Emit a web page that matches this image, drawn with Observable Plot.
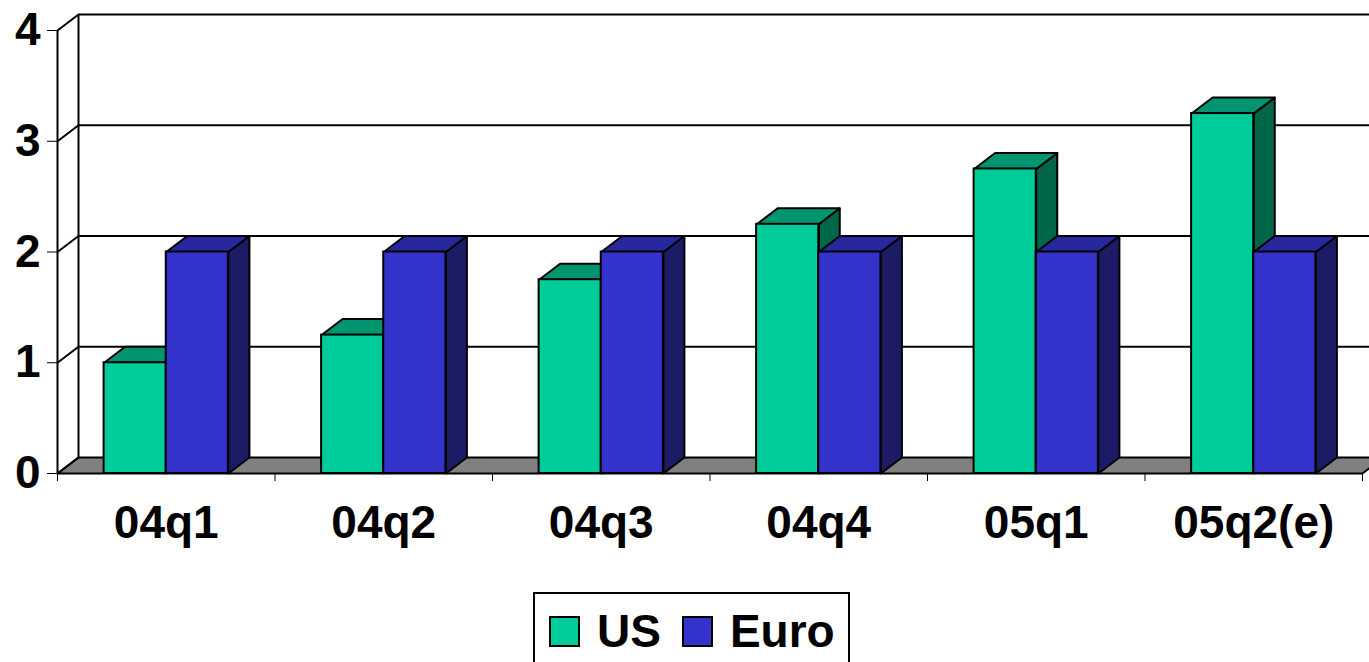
<!DOCTYPE html>
<html>
<head>
<meta charset="utf-8">
<script src="https://cdn.jsdelivr.net/npm/d3@7"></script>
<script src="https://cdn.jsdelivr.net/npm/@observablehq/plot@0.6"></script>
<style>
  html, body { margin: 0; padding: 0; background: #fff; overflow: hidden; }
  body { font-family: "Liberation Sans", Arial, sans-serif; }
  #chart svg { display: block; }
  #chart svg text { font-family: "Liberation Sans", Arial, sans-serif; font-size: 46px; font-weight: bold; }
  #legend {
    margin: 12px 0 0 533px; width: 317px; height: 90px; box-sizing: border-box;
    border: 2px solid #000; display: flex; align-items: flex-start; padding: 14px 0 0 14px;
    font-size: 46px; font-weight: bold; line-height: 1;
  }
  #legend .item { display: flex; align-items: center; }
  #legend .sw { width: 31px; height: 31px; box-sizing: border-box; border: 2px solid #000; margin-right: 17px; }
  #legend .item + .item { margin-left: 21px; }
</style>
</head>
<body>
<div id="chart"></div>
<div id="legend"></div>
<script>
// Quarterly policy rates, US vs euro area (%)
const quarters = ["04q1", "04q2", "04q3", "04q4", "05q1", "05q2(e)"];
const usRates = [1.0, 1.25, 1.75, 2.25, 2.75, 3.25];
const euroRates = [2.0, 2.0, 2.0, 2.0, 2.0, 2.0];
const seriesNames = ["US", "Euro"];
const yTicks = [0, 1, 2, 3, 4];

// Face shades for each series: front, top, side
const shades = {
  US:   {front: "#00cc99", top: "#009470", side: "#006648"},
  Euro: {front: "#3333cc", top: "#28289e", side: "#1c1c66"}
};

// Oblique depth of the 3-D box, in data units (x: categories, y: percent)
const DX = 0.0966, DY = 0.1445;
// Column layout inside a category (gap width 150%)
const BAR_W = 1 / 3.5, PAD = 0.75 / 3.5;

const values = {US: usRates, Euro: euroRates};
const bars = [];
seriesNames.forEach((s, si) => {
  quarters.forEach((q, i) => {
    const x1 = i + PAD + si * BAR_W;
    bars.push({series: s, quarter: q, x1, x2: x1 + BAR_W, value: values[s][i]});
  });
});

// Polygons for the visible top and right-hand faces
function sidePoly(b) {
  return [[b.x2, 0], [b.x2, b.value], [b.x2 + DX, b.value + DY], [b.x2 + DX, DY], [b.x2, 0]];
}
function topPoly(b) {
  return [[b.x1, b.value], [b.x2, b.value], [b.x2 + DX, b.value + DY], [b.x1 + DX, b.value + DY], [b.x1, b.value]];
}
function flatten(list, fn) {
  return list.flatMap((b, k) => fn(b).map(([x, y]) => ({id: k, x, y})));
}

const n = quarters.length;
const floor = [[0, 0], [n, 0], [n + DX, DY], [DX, DY], [0, 0]].map(([x, y]) => ({x, y}));

const faceMarks = [];
for (const s of seriesNames) {
  faceMarks.push(Plot.line(flatten(bars.filter(b => b.series === s), sidePoly),
    {x: "x", y: "y", z: "id", fill: shades[s].side, stroke: "#000", strokeWidth: 2, strokeLinejoin: "round"}));
}
for (const s of seriesNames) {
  faceMarks.push(Plot.line(flatten(bars.filter(b => b.series === s), topPoly),
    {x: "x", y: "y", z: "id", fill: shades[s].top, stroke: "#000", strokeWidth: 2, strokeLinejoin: "round"}));
}
for (const s of seriesNames) {
  faceMarks.push(Plot.rect(bars.filter(b => b.series === s),
    {x1: "x1", x2: "x2", y1: 0, y2: "value", fill: shades[s].front, stroke: "#000", strokeWidth: 2}));
}

const chart = Plot.plot({
  width: 1369,
  height: 580,
  marginLeft: 57,
  marginRight: 7,
  marginTop: 30,
  marginBottom: 107,
  style: {fontFamily: "Liberation Sans, Arial, sans-serif", fontSize: "46px", fontWeight: "bold", background: "#fff", overflow: "visible"},
  x: {domain: [0, n], ticks: n, tickSize: 8, tickFormat: () => "", label: null},
  y: {domain: [0, 4], ticks: 4, tickSize: 10, tickPadding: 7, label: null},
  marks: [
    // floor
    Plot.line(floor, {x: "x", y: "y", fill: "#808080", stroke: "#000", strokeWidth: 2}),
    // back-wall gridlines
    Plot.ruleY(yTicks.slice(1), {y: d => d + DY, x1: DX, x2: n + DX, stroke: "#000", strokeWidth: 2}),
    // left wall
    Plot.ruleX([0], {y1: 0, y2: 4, stroke: "#000", strokeWidth: 2}),
    Plot.ruleX([DX], {y1: DY, y2: 4 + DY, stroke: "#000", strokeWidth: 2}),
    Plot.link(yTicks, {x1: 0, y1: d => d, x2: DX, y2: d => d + DY, stroke: "#000", strokeWidth: 2}),
    ...faceMarks,
    // category labels
    Plot.text(quarters, {x: (d, i) => i + 0.5, y: 0, dy: 50, text: d => d, fontSize: 46, fontWeight: "bold", fill: "#000"})
  ]
});
document.getElementById("chart").appendChild(chart);

// Legend
const legend = document.getElementById("legend");
for (const s of seriesNames) {
  const item = document.createElement("div");
  item.className = "item";
  const sw = document.createElement("span");
  sw.className = "sw";
  sw.style.background = shades[s].front;
  const label = document.createElement("span");
  label.textContent = s;
  item.append(sw, label);
  legend.appendChild(item);
}
</script>
</body>
</html>
